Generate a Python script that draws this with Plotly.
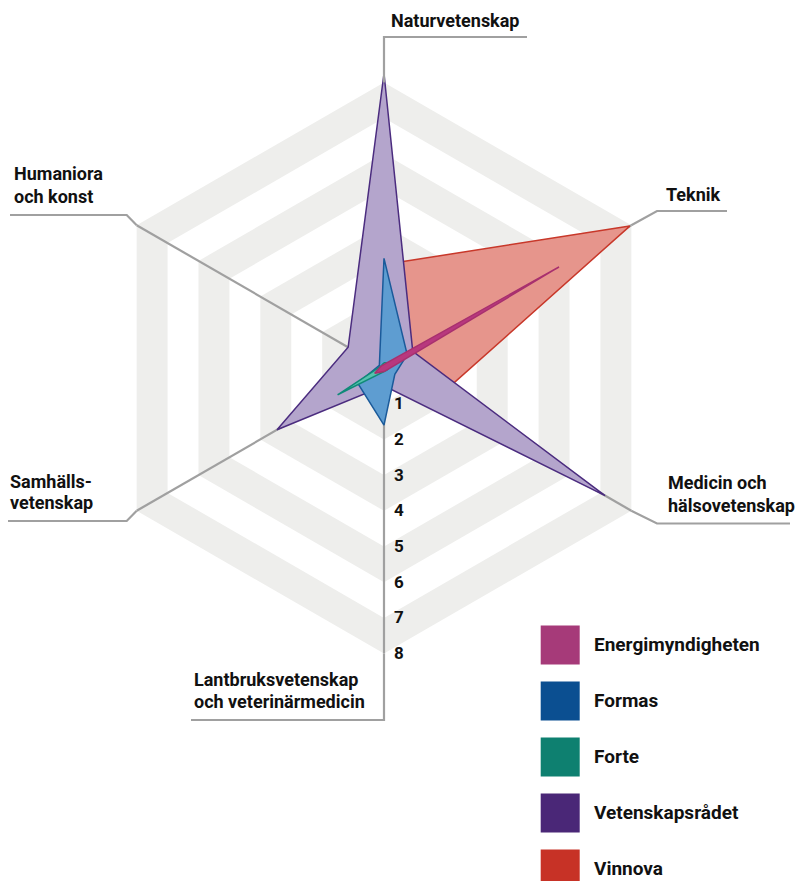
import plotly.graph_objects as go

W, H = 798, 881

categories = ["Naturvetenskap", "Teknik", "Medicin och hälsovetenskap",
              "Lantbruksvetenskap och veterinärmedicin", "Samhällsvetenskap",
              "Humaniora och konst"]

vinnova = [2.9, 7.95, 1.7, 0.3, 0.3, 0.3]
vetenskapsradet = [8.25, 0.93, 7.15, 0.5, 3.46, 1.16]
formas = [3.07, 0.75, 0.35, 1.6, 0.85, 0.15]
forte = [0.15, 0.3, 0.1, 0.1, 1.5, 0.1]
energimyndigheten = [0.1, 5.66, 0.1, 0.1, 0.3, 0.1]

series_names = ["Energimyndigheten", "Formas", "Forte", "Vetenskapsrådet", "Vinnova"]
legend_colors = ["#a63a79", "#0b4f91", "#0e8070", "#4a2777", "#c73226"]

tick_values = [1, 2, 3, 4, 5, 6, 7, 8]
tick_labels = ["1", "2", "3", "4", "5", "6", "7", "8"]

FONT = "Roboto, Liberation Sans, Arial, sans-serif"

# geometry (pixels)
CX, CY, UNIT = 384, 368, 35.7
RMAX = 8.6
rad_px = RMAX * UNIT


def P(x, y):
    return x / W, 1 - y / H


fig = go.Figure()

theta_closed = categories + [categories[0]]

# hexagonal bands
for k in range(8, 0, -1):
    fig.add_trace(go.Scatterpolar(
        r=[k] * 7, theta=theta_closed, mode="lines", fill="toself",
        fillcolor="#eeeeec" if k % 2 == 0 else "#ffffff",
        line=dict(width=0, color="rgba(0,0,0,0)"),
        hoverinfo="skip", showlegend=False))

# spokes
for c in categories:
    fig.add_trace(go.Scatterpolar(
        r=[0, 8], theta=[c, c], mode="lines",
        line=dict(color="#a0a0a0", width=2.2),
        hoverinfo="skip", showlegend=False))

series = [
    ("Vinnova", vinnova, "#c8382a", "#e6958c"),
    ("Vetenskapsrådet", vetenskapsradet, "#4b2c7f", "#b4a5cc"),
    ("Formas", formas, "#1a5a9a", "#5e9dd1"),
    ("Forte", forte, "#108a78", "#56c2ae"),
    ("Energimyndigheten", energimyndigheten, "#a8306e", "#b8387e"),
]
for name, vals, lc, fc in series:
    fig.add_trace(go.Scatterpolar(
        r=vals + [vals[0]], theta=theta_closed, mode="lines", fill="toself",
        fillcolor=fc, line=dict(color=lc, width=1.5), name=name,
        showlegend=False))

x0, y0 = P(CX - rad_px, CY + rad_px)
x1, y1 = P(CX + rad_px, CY - rad_px)

fig.update_layout(
    width=W, height=H, margin=dict(l=0, r=0, t=0, b=0),
    paper_bgcolor="white", plot_bgcolor="white",
    polar=dict(
        domain=dict(x=[x0, x1], y=[y0, y1]),
        gridshape="linear",
        bgcolor="rgba(0,0,0,0)",
        angularaxis=dict(direction="clockwise", rotation=90,
                         showline=False, showgrid=False,
                         showticklabels=False, ticks=""),
        radialaxis=dict(range=[0, RMAX], angle=-90, side="counterclockwise",
                        showline=False, showgrid=False,
                        tickvals=tick_values, ticktext=tick_labels,
                        ticks="outside", ticklen=6, tickcolor="rgba(0,0,0,0)",
                        tickangle=-90,
                        tickfont=dict(family=FONT, size=17, color="#111111",
                                      weight="bold")),
    ),
    showlegend=False,
)

# leader lines beyond the outer band
leaders = [
    [(384, 82.4), (384, 37), (527, 37)],
    [(631.3, 225.2), (657, 211), (727, 211)],
    [(631.3, 510.8), (657, 523.5), (790, 523.5)],
    [(384, 653.6), (384, 720), (191, 720)],
    [(136.7, 510.8), (126.7, 521), (8, 521)],
    [(136.7, 225.2), (126.7, 215), (10, 215)],
]
for pts in leaders:
    path = ""
    for i, (x, y) in enumerate(pts):
        px_, py_ = P(x, y)
        path += ("M" if i == 0 else " L") + f" {px_:.5f} {py_:.5f}"
    fig.add_shape(type="path", path=path, xref="paper", yref="paper",
                  line=dict(color="#a0a0a0", width=2.2), layer="above")

labels = [
    ("Naturvetenskap", 455, 20, "center"),
    ("Teknik", 693, 194, "center"),
    ("Medicin och", 666, 483, "left"),
    ("hälsovetenskap", 666, 505, "left"),
    ("Lantbruksvetenskap", 192, 679, "left"),
    ("och veterinärmedicin", 192, 701, "left"),
    ("Samhälls-", 8, 481, "left"),
    ("vetenskap", 8, 503, "left"),
    ("Humaniora", 12, 174, "left"),
    ("och konst", 12, 196, "left"),
]
for txt, x, y, anc in labels:
    ax_, ay_ = P(x, y)
    fig.add_annotation(x=ax_, y=ay_, xref="paper", yref="paper", text=txt,
                       showarrow=False, xanchor=anc, yanchor="middle",
                       font=dict(family=FONT, size=18, color="#111111",
                                 weight="bold"))

# manual legend
for i, (nm, col) in enumerate(zip(series_names, legend_colors)):
    top = 625.4 + 56 * i
    sx0, sy0 = P(540.7, top + 39)
    sx1, sy1 = P(579.7, top)
    fig.add_shape(type="rect", xref="paper", yref="paper",
                  x0=sx0, y0=sy0, x1=sx1, y1=sy1,
                  fillcolor=col, line=dict(width=0))
    tx, ty = P(591.5, top + 19.5)
    fig.add_annotation(x=tx, y=ty, xref="paper", yref="paper", text=nm,
                       showarrow=False, xanchor="left", yanchor="middle",
                       font=dict(family=FONT, size=19, color="#111111",
                                 weight="bold"))

fig.write_html("out.html",
               config={"displayModeBar": False},
               post_script="document.body.style.margin='0px';")
